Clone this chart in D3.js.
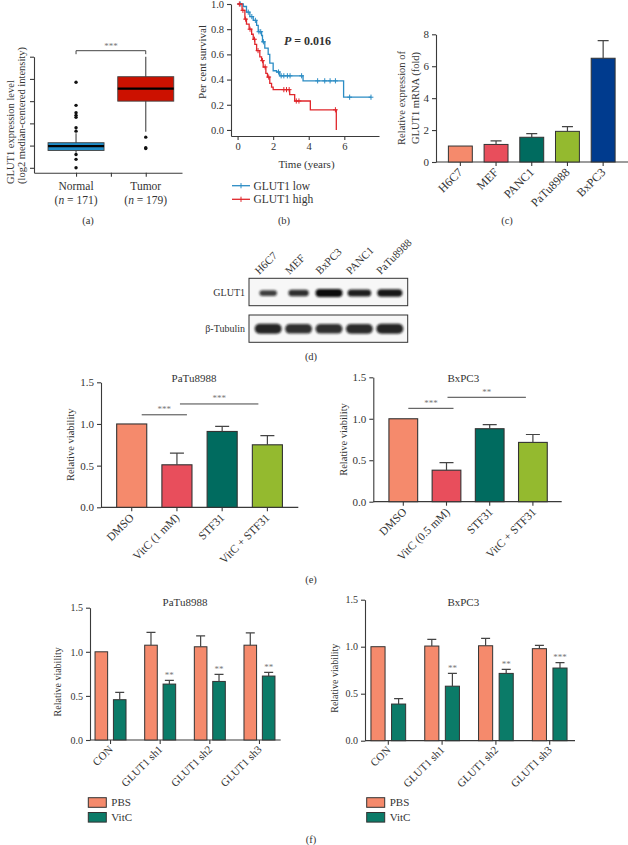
<!DOCTYPE html>
<html><head><meta charset="utf-8">
<script src="https://cdn.jsdelivr.net/npm/d3@7"></script>
<style>
body{margin:0;background:#fff}
svg text{font-family:"Liberation Serif","Times New Roman",serif;fill:#333}
.ax path,.ax line{stroke:#3a3a3a;stroke-width:1.1}
.ax text{font-family:"Liberation Serif","Times New Roman",serif;fill:#333}
</style>
</head><body>
<svg id="c" width="628" height="845" xmlns="http://www.w3.org/2000/svg"></svg>
<script>
// ---------- DATA ----------
// (a) box plot
const boxGroups = ["Normal", "Tumor"];
const boxN = [171, 179];
const boxQ1 = [0.78, 3.0];
const boxMedian = [0.98, 3.56];
const boxQ3 = [1.13, 4.1];
const boxWhiskerLow = [0.68, 1.62];
const boxWhiskerHigh = [1.56, 5.0];
const normalOutliers = [3.85, 2.81, 2.48, 2.36, 2.27, 1.8, 1.65, 0.6, 0.38, 0.0];
const tumorOutliers = [1.38, 0.9, 0.87];
const boxSig = "***";

// (b) Kaplan-Meier
const kmLowTimes = [0, 0.32, 0.5, 0.69, 0.88, 1.07, 1.16, 1.35, 1.4, 1.53, 1.72, 1.81, 2.0, 2.19, 2.37, 3.68, 5.96, 7.51];
const kmLowSurv  = [1.0, 0.98, 0.935, 0.9, 0.87, 0.83, 0.78, 0.75, 0.7, 0.65, 0.6, 0.53, 0.47, 0.46, 0.43, 0.39, 0.26, 0.26];
const kmLowCensor = [0.15, 0.6, 0.8, 1.0, 1.2, 1.3, 1.45, 2.3, 2.45, 2.6, 2.8, 2.95, 3.6, 4.5, 4.9, 5.2, 5.5, 6.3, 7.5];
const kmHighTimes = [0, 0.25, 0.41, 0.5, 0.65, 0.79, 0.88, 0.97, 1.07, 1.25, 1.35, 1.44, 1.59, 1.68, 1.81, 1.91, 2.0, 2.93, 3.21, 4.09, 5.55];
const kmHighSurv  = [1.0, 0.95, 0.88, 0.84, 0.8, 0.76, 0.72, 0.68, 0.63, 0.58, 0.55, 0.5, 0.45, 0.42, 0.37, 0.34, 0.32, 0.28, 0.23, 0.16, 0.0];
const kmHighCensor = [0.1, 0.3, 0.45, 0.7, 0.95, 1.15, 1.4, 1.55, 1.75, 2.6, 2.75, 2.9, 3.3, 3.45, 5.5];
const kmXTicks = [0, 2, 4, 6];
const kmYTicks = [0, 0.2, 0.4, 0.6, 0.8, 1.0];
const kmLegend = ["GLUT1 low", "GLUT1 high"];
const kmP = "0.016";

// (c) qPCR
const cCats = ["H6C7", "MEF", "PANC1", "PaTu8988", "BxPC3"];
const cVals = [1.0, 1.1, 1.55, 1.92, 6.5];
const cErr  = [0, 0.22, 0.23, 0.3, 1.1];
const cYTicks = [0, 2, 4, 6, 8];

// (d) western blot
const blotLanes = ["H6C7", "MEF", "BxPC3", "PANC1", "PaTu8988"];
const blotRows = ["GLUT1", "β-Tubulin"];
const glut1Intensity = [0.5, 0.65, 1.0, 0.82, 0.9];
const tubulinIntensity = [0.95, 0.9, 0.9, 0.92, 0.95];

// (e) viability
const eCats1 = ["DMSO", "VitC (1 mM)", "STF31", "VitC + STF31"];
const eVals1 = [1.0, 0.51, 0.91, 0.75];
const eErr1  = [0, 0.14, 0.06, 0.11];
const eSig1  = [[0, 1, 1.11, "***"], [1, 3, 1.24, "***"]];
const eCats2 = ["DMSO", "VitC (0.5 mM)", "STF31", "VitC + STF31"];
const eVals2 = [1.0, 0.38, 0.88, 0.715];
const eErr2  = [0, 0.09, 0.05, 0.095];
const eSig2  = [[0, 1, 1.126, "***"], [1, 3, 1.259, "**"]];
const viaTicks = [0, 0.5, 1.0, 1.5];

// (f) shRNA
const fGroups = ["CON", "GLUT1 sh1", "GLUT1 sh2", "GLUT1 sh3"];
const fSeries = ["PBS", "VitC"];
const fPBS1  = [1.0, 1.075, 1.057, 1.075];
const fPBSErr1 = [0, 0.145, 0.123, 0.14];
const fVitC1 = [0.457, 0.634, 0.664, 0.725];
const fVitCErr1 = [0.083, 0.041, 0.079, 0.041];
const fSig1 = ["", "**", "**", "**"];
const fPBS2  = [1.0, 1.007, 1.01, 0.979];
const fPBSErr2 = [0, 0.071, 0.079, 0.035];
const fVitC2 = [0.39, 0.58, 0.716, 0.773];
const fVitCErr2 = [0.057, 0.136, 0.043, 0.057];
const fSig2 = ["", "**", "**", "***"];

// ---------- STYLE ----------
const cColors = ["#F58A6C", "#E84E5C", "#006B5F", "#94BA2F", "#003B8E"];
const eColors = ["#F58A6C", "#E84E5C", "#006B5F", "#94BA2F"];
const fColors = ["#F58A6C", "#0B7B68"];
const boxColors = ["#1E8CC8", "#CC1100"];
const kmColors = ["#2B8CC4", "#E0262B"];

const svg = d3.select("#c");
svg.append("rect").attr("width", 628).attr("height", 845).attr("fill", "#fff");

function text(g, x, y, s, o = {}) {
  const t = g.append("text").attr("x", x).attr("y", y).text(s)
    .attr("font-size", o.size || 11)
    .attr("text-anchor", o.anchor || "middle");
  if (o.rotate !== undefined) t.attr("transform", `rotate(${o.rotate},${x},${y})`);
  if (o.fill) t.style("fill", o.fill);
  if (o.weight) t.attr("font-weight", o.weight);
  if (o.style) t.attr("font-style", o.style);
  return t;
}
function styleAxis(sel, fs) {
  sel.attr("class", "ax");
  sel.selectAll("text").attr("font-size", fs).style("fill", "#333");
}

// ---------- (a) box plot ----------
{
  const g = svg.append("g");
  const x = d3.scaleLinear().domain([0.397, 2.52]).range([34, 182]);
  const y = d3.scaleLinear().domain([-0.22, 5]).range([172.7, 56.7]);
  g.append("g").attr("transform", "translate(34,0)")
    .call(d3.axisLeft(y).tickValues([0, 1, 2, 3, 4, 5]).tickFormat("").tickSize(4).tickSizeOuter(0))
    .call(s => styleAxis(s, 10));
  g.append("g").attr("transform", "translate(0,172.7)")
    .call(d3.axisBottom(x).tickValues([1, 1.5, 2]).tickFormat("").tickSize(4).tickSizeOuter(0))
    .call(s => styleAxis(s, 10));
  const half = 28;
  boxGroups.forEach((name, i) => {
    const cx = x(i + 1);
    g.append("line").attr("x1", cx).attr("x2", cx).attr("y1", y(boxWhiskerLow[i])).attr("y2", y(boxWhiskerHigh[i]))
      .attr("stroke", "#555").attr("stroke-width", 1.2);
    g.append("rect").attr("x", cx - half).attr("width", half * 2)
      .attr("y", y(boxQ3[i])).attr("height", y(boxQ1[i]) - y(boxQ3[i]))
      .attr("fill", boxColors[i]).attr("stroke", "#444").attr("stroke-width", 0.9);
    g.append("line").attr("x1", cx - half).attr("x2", cx + half).attr("y1", y(boxMedian[i])).attr("y2", y(boxMedian[i]))
      .attr("stroke", "#000").attr("stroke-width", 2.2);
    const outs = i === 0 ? normalOutliers : tumorOutliers;
    g.selectAll(null).data(outs).join("circle").attr("cx", cx).attr("cy", d => y(d)).attr("r", 1.7).attr("fill", "#111");
    text(g, cx, 190, name, { size: 11.5 });
    const t = g.append("text").attr("x", cx).attr("y", 204).attr("text-anchor", "middle").attr("font-size", 11.5);
    t.append("tspan").text("(");
    t.append("tspan").attr("font-style", "italic").text("n");
    t.append("tspan").text(" = " + boxN[i] + ")");
  });
  const by = 50.7;
  g.append("path").attr("d", `M${x(1)},${by + 3.5}V${by}H${x(2)}V${by + 3.5}`)
    .attr("fill", "none").attr("stroke", "#444").attr("stroke-width", 1);
  text(g, (x(1) + x(2)) / 2, by - 2, boxSig, { size: 9, fill: "#777" });
  text(g, 13.5, 184, "GLUT1 expression level", { size: 10.5, anchor: "start", rotate: -90 });
  text(g, 25, 184, "(log2 median-centered intensity)", { size: 10.5, anchor: "start", rotate: -90 });
  text(g, 88, 224, "(a)", { size: 10.5 });
}

// ---------- (b) KM ----------
{
  const g = svg.append("g");
  const x = d3.scaleLinear().domain([-0.37, 7.95]).range([231, 379]);
  const y = d3.scaleLinear().domain([-0.048, 1.0]).range([136, 4]);
  g.append("g").attr("transform", "translate(231,0)")
    .call(d3.axisLeft(y).tickValues(kmYTicks).tickFormat(d3.format(".1f")).tickSize(4).tickSizeOuter(0))
    .call(s => styleAxis(s, 10.5));
  g.append("g").attr("transform", "translate(0,136)")
    .call(d3.axisBottom(x).tickValues(kmXTicks).tickFormat(d3.format("d")).tickSize(4).tickSizeOuter(0))
    .call(s => styleAxis(s, 10.5));
  const line = d3.line().x(d => x(d[0])).y(d => y(d[1])).curve(d3.curveStepAfter);
  const series = [
    [kmLowTimes, kmLowSurv, kmLowCensor],
    [kmHighTimes, kmHighSurv, kmHighCensor]
  ];
  series.forEach(([T, S, C], k) => {
    const pts = T.map((t, i) => [t, S[i]]);
    g.append("path").attr("d", line(pts)).attr("fill", "none").attr("stroke", kmColors[k]).attr("stroke-width", 1.3);
    const survAt = t => { let v = S[0]; T.forEach((tt, i) => { if (tt <= t) v = S[i]; }); return v; };
    C.forEach(t => {
      const cx = x(t), cy = y(survAt(t));
      g.append("path").attr("d", `M${cx},${cy - 2.6}V${cy + 2.6}M${cx - 2.4},${cy}H${cx + 2.4}`)
        .attr("stroke", kmColors[k]).attr("stroke-width", 1);
    });
  });
  const pt = g.append("text").attr("x", 307.5).attr("y", 45).attr("text-anchor", "middle").attr("font-size", 12).attr("font-weight", "bold");
  pt.append("tspan").attr("font-style", "italic").text("P");
  pt.append("tspan").text(" = " + kmP);
  text(g, 306.5, 168, "Time (years)", { size: 11 });
  text(g, 206, 62, "Per cent survival", { size: 11, rotate: -90 });
  kmLegend.forEach((name, k) => {
    const ly = 185.7 + k * 13.6;
    g.append("line").attr("x1", 232).attr("x2", 250).attr("y1", ly).attr("y2", ly).attr("stroke", kmColors[k]).attr("stroke-width", 1.3);
    g.append("path").attr("d", `M241,${ly - 2.6}V${ly + 2.6}`).attr("stroke", kmColors[k]).attr("stroke-width", 1);
    text(g, 253.5, ly + 3.8, name, { size: 11.5, anchor: "start" });
  });
  text(g, 284, 224, "(b)", { size: 10.5 });
}

// ---------- generic bar helpers ----------
function errBar(g, cx, yTop, yErr, cap) {
  g.append("path").attr("d", `M${cx},${yTop}V${yErr}M${cx - cap / 2},${yErr}H${cx + cap / 2}`)
    .attr("fill", "none").attr("stroke", "#444").attr("stroke-width", 1.2);
}
function xLabels(g, cats, x, yAxis, fs, dx, dy) {
  cats.forEach(c => {
    const cx = x(c) + x.bandwidth() / 2 + dx, cy = yAxis + dy;
    text(g, cx, cy, c, { size: fs, anchor: "end", rotate: -45 });
  });
}
function xAxisLine(g, x0, x1, yAxis, centers) {
  g.append("line").attr("x1", x0).attr("x2", x1).attr("y1", yAxis).attr("y2", yAxis).attr("stroke", "#3a3a3a").attr("stroke-width", 1.2);
  centers.forEach(cx => g.append("line").attr("x1", cx).attr("x2", cx).attr("y1", yAxis).attr("y2", yAxis + 4).attr("stroke", "#3a3a3a").attr("stroke-width", 1.1));
}

// ---------- (c) qPCR ----------
{
  const g = svg.append("g");
  const x = d3.scaleBand().domain(cCats).range([442.5, 621]).paddingInner(0.33).paddingOuter(0.165);
  const y = d3.scaleLinear().domain([0, 8]).range([162, 34.3]);
  g.append("g").attr("transform", "translate(436,0)")
    .call(d3.axisLeft(y).tickValues(cYTicks).tickFormat(d3.format("d")).tickSize(4).tickSizeOuter(0))
    .call(s => styleAxis(s, 11));
  xAxisLine(g, 436, 628, 162, cCats.map(c => x(c) + x.bandwidth() / 2));
  cCats.forEach((c, i) => {
    g.append("rect").attr("x", x(c)).attr("width", x.bandwidth()).attr("y", y(cVals[i])).attr("height", y(0) - y(cVals[i]))
      .attr("fill", cColors[i]).attr("stroke", "#333").attr("stroke-width", 1);
    if (cErr[i] > 0) errBar(g, x(c) + x.bandwidth() / 2, y(cVals[i]), y(cVals[i] + cErr[i]), 11);
  });
  xLabels(g, cCats, x, 162, 12, 3, 11);
  text(g, 405, 98, "Relative expression of", { size: 10.5, rotate: -90 });
  text(g, 419, 98, "GLUT1 mRNA (fold)", { size: 10.5, rotate: -90 });
  text(g, 507, 224, "(c)", { size: 10.5 });
}

// ---------- (d) western blot ----------
{
  const g = svg.append("g");
  const defs = svg.append("defs");
  defs.append("filter").attr("id", "blur").attr("x", "-50%").attr("y", "-100%").attr("width", "200%").attr("height", "300%")
    .append("feGaussianBlur").attr("stdDeviation", 1.3);
  const x = d3.scaleBand().domain(blotLanes).range([253, 405]);
  const rows = [[278.3, 305.7], [315, 342.3]];
  rows.forEach(([y0, y1], r) => {
    g.append("rect").attr("x", 249).attr("y", y0).attr("width", 158.7).attr("height", y1 - y0)
      .attr("fill", "#f7f7f7").attr("stroke", "#333").attr("stroke-width", 1);
    text(g, 245, (y0 + y1) / 2 + 3.5, blotRows[r], { size: 10, anchor: "end" });
  });
  const bands = g.append("g").attr("filter", "url(#blur)");
  blotLanes.forEach((l, i) => {
    const cx = x(l) + x.bandwidth() / 2;
    const gi = glut1Intensity[i];
    const gw = 8 + 19 * gi, gh = 3.5 + 4.5 * gi;
    bands.append("rect").attr("x", cx - gw / 2).attr("y", 293 - gh / 2).attr("width", gw).attr("height", gh)
      .attr("rx", gh / 2).attr("fill", "#111").attr("opacity", 0.6 + 0.4 * gi);
    const ti = tubulinIntensity[i];
    const tw = 27, th = 10.5 * ti;
    bands.append("rect").attr("x", cx - tw / 2).attr("y", 328.8 - th / 2).attr("width", tw).attr("height", th)
      .attr("rx", th / 2).attr("fill", "#111").attr("opacity", 0.95 * ti);
    text(g, cx - 9, 275, l, { size: 11, anchor: "start", rotate: -45 });
  });
  text(g, 311, 360, "(d)", { size: 10.5 });
}

// ---------- (e) viability ----------
function ePanel(cats, vals, errs, sigs, title, geo, xlabDx) {
  const g = svg.append("g");
  const x = d3.scaleBand().domain(cats).range(geo.range).paddingInner(0.335).paddingOuter(0.1675);
  const y = d3.scaleLinear().domain([0, 1.5]).range([geo.y0, geo.y15]);
  g.append("g").attr("transform", `translate(${geo.ax},0)`)
    .call(d3.axisLeft(y).tickValues(viaTicks).tickFormat(d3.format(".1f")).tickSize(4).tickSizeOuter(0))
    .call(s => styleAxis(s, 11));
  const cen = c => x(c) + x.bandwidth() / 2;
  xAxisLine(g, geo.ax, geo.axEnd, geo.y0, cats.map(cen));
  cats.forEach((c, i) => {
    g.append("rect").attr("x", x(c)).attr("width", x.bandwidth()).attr("y", y(vals[i])).attr("height", y(0) - y(vals[i]))
      .attr("fill", eColors[i]).attr("stroke", "#333").attr("stroke-width", 1.1);
    if (errs[i] > 0) errBar(g, cen(c), y(vals[i]), y(vals[i] + errs[i]), 14);
  });
  const offs = geo.sigOff;
  sigs.forEach(([a, b, lvl, lab], k) => {
    const x1 = cen(cats[a]) + offs[k][0], x2 = cen(cats[b]) + offs[k][1];
    g.append("line").attr("x1", x1).attr("x2", x2).attr("y1", y(lvl)).attr("y2", y(lvl)).attr("stroke", "#444").attr("stroke-width", 1);
    text(g, (x1 + x2) / 2, y(lvl) - 2.5, lab, { size: 9, fill: "#777" });
  });
  text(g, geo.titleX, 382, title, { size: 11 });
  text(g, geo.labX, (geo.y0 + geo.y15) / 2, "Relative viability", { size: 10.5, rotate: -90 });
  xLabels(g, cats, x, geo.y0, 11.5, xlabDx, 11);
}
ePanel(eCats1, eVals1, eErr1, eSig1, "PaTu8988",
  { range: [109.1, 290], y0: 507.3, y15: 382.3, ax: 101, axEnd: 298.3, titleX: 194, labX: 74, sigOff: [[10, 10], [3, -9]] }, 3);
ePanel(eCats2, eVals2, eErr2, eSig2, "BxPC3",
  { range: [381.7, 554.5], y0: 501.7, y15: 377.3, ax: 373.3, axEnd: 561.7, titleX: 463.3, labX: 347, sigOff: [[5, 7], [1, -7]] }, 4);
text(svg, 311, 583, "(e)", { size: 10.5 });

// ---------- (f) shRNA ----------
function fPanel(pbs, pbsErr, vit, vitErr, sig, title, geo) {
  const g = svg.append("g");
  const x = d3.scaleBand().domain(fGroups).range(geo.range).paddingInner(geo.pad).paddingOuter(geo.pad / 2);
  const xs = d3.scaleBand().domain(fSeries).range([0, x.bandwidth()]).paddingInner(0.315).paddingOuter(0);
  const y = d3.scaleLinear().domain([0, 1.5]).range([geo.y0, geo.y15]);
  g.append("g").attr("transform", `translate(${geo.ax},0)`)
    .call(d3.axisLeft(y).tickValues(viaTicks).tickFormat(d3.format(".1f")).tickSize(4).tickSizeOuter(0))
    .call(s => styleAxis(s, 10));
  xAxisLine(g, geo.ax, geo.axEnd, geo.y0, fGroups.map(c => x(c) + x.bandwidth() / 2));
  const vals = [pbs, vit], errs = [pbsErr, vitErr];
  fGroups.forEach((grp, i) => {
    fSeries.forEach((s, k) => {
      const bx = x(grp) + xs(s), v = vals[k][i], e = errs[k][i];
      g.append("rect").attr("x", bx).attr("width", xs.bandwidth()).attr("y", y(v)).attr("height", y(0) - y(v))
        .attr("fill", fColors[k]).attr("stroke", "#333").attr("stroke-width", 1);
      const cx = bx + xs.bandwidth() / 2;
      if (e > 0) errBar(g, cx, y(v), y(v + e), 9);
      if (k === 1 && sig[i]) text(g, cx, y(v + e) - 2.5, sig[i], { size: 9, fill: "#777" });
    });
  });
  text(g, geo.titleX, 606, title, { size: 11 });
  text(g, geo.labX, (geo.y0 + geo.y15) / 2 + 8, "Relative viability", { size: 10, rotate: -90 });
  xLabels(g, fGroups, x, geo.y0, 11, 3, 10);
  fSeries.forEach((s, k) => {
    const ly = 797.7 + k * 14.8;
    g.append("rect").attr("x", geo.legX).attr("y", ly).attr("width", 18).attr("height", 9.6)
      .attr("fill", fColors[k]).attr("stroke", "#333").attr("stroke-width", 1);
    text(g, geo.legX + 23, ly + 8.5, s, { size: 11, anchor: "start" });
  });
}
fPanel(fPBS1, fPBSErr1, fVitC1, fVitCErr1, fSig1, "PaTu8988",
  { range: [85.7, 284.3], pad: 0.376, y0: 740, y15: 607.7, ax: 90, axEnd: 280.7, titleX: 185, labX: 61, legX: 88.3 });
fPanel(fPBS2, fPBSErr2, fVitC2, fVitCErr2, fSig2, "BxPC3",
  { range: [361.4, 576.6], pad: 0.355, y0: 740.7, y15: 599.7, ax: 365, axEnd: 575, titleX: 463.3, labX: 338, legX: 366.7 });
text(svg, 311, 843, "(f)", { size: 10.5 });
</script>
</body></html>
